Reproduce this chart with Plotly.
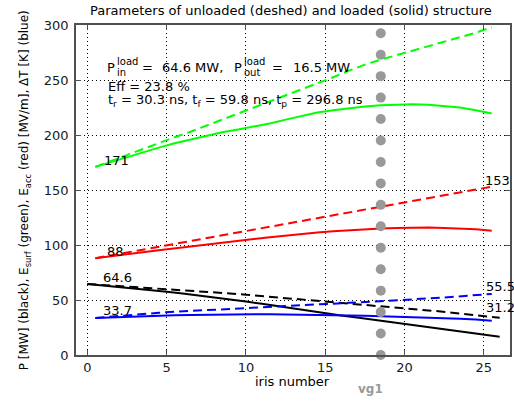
import plotly.graph_objects as go

# ---------------- data ----------------
iris_cells = [0.5, 1.5, 2.5, 3.5, 4.5, 5.5, 6.5, 7.5, 8.5, 9.5, 10.5, 11.5, 12.5,
              13.5, 14.5, 15.5, 16.5, 17.5, 18.5, 19.5, 20.5, 21.5, 22.5, 23.5, 24.5, 25.5]
iris_edges = [0, 1, 2, 3, 4, 5, 6, 7, 8, 9, 10, 11, 12, 13, 14, 15, 16, 17, 18, 19,
              20, 21, 22, 23, 24, 25, 26]

esurf_unloaded = [171, 176.5, 182, 187, 192.5, 198, 203, 208.5, 213.5, 219, 224.5, 230,
                  235.5, 241, 246.5, 252.5, 258.5, 264, 268.5, 272.5, 276.5, 280.5,
                  284.5, 288.5, 293, 298]
esurf_loaded = [171, 175.5, 180, 184, 188.5, 192.5, 196, 199.5, 202.5, 205, 207.5, 210.5,
                214, 217.5, 220.5, 222.5, 224.5, 226, 227, 227.7, 228, 227.5, 226.5,
                225, 222.5, 219.5]
eacc_unloaded = [88, 90.6, 93.2, 95.8, 98.4, 101, 103.6, 106.2, 108.8, 111.4, 114, 116.5,
                 119, 121.6, 124.2, 126.9, 129.5, 132.1, 134.7, 137.3, 140, 142.6, 145.2,
                 147.8, 150.4, 153]
eacc_loaded = [88, 90, 91.8, 93.5, 95.2, 97, 98.8, 100.5, 102.2, 103.8, 105.4, 107, 108.6,
               110, 111.3, 112.4, 113.4, 114.3, 115, 115.5, 115.8, 115.8, 115.5, 115,
               114.3, 113]
power_unloaded = [64.6, 63.7, 62.8, 61.9, 61, 60, 59.1, 58.1, 57, 55.9, 54.8, 53.6, 52.4,
                  51.2, 50, 48.8, 47.6, 46.4, 45.1, 43.8, 42.5, 41.2, 39.9, 38.5, 37,
                  35.4, 33.8]
power_loaded = [64.6, 63.3, 61.9, 60.5, 59, 57.5, 55.9, 54.2, 52.4, 50.5, 48.6, 46.5, 44.3,
                42.1, 40, 38, 36, 34.1, 32.2, 30.3, 28.5, 26.6, 24.6, 22.6, 20.6, 18.6, 16.5]
dT_unloaded = [33.7, 35, 36.2, 37.3, 38.4, 39.3, 40.1, 40.9, 41.7, 42.5, 43.2, 43.9, 44.6,
               45.3, 46, 46.7, 47.4, 48.1, 48.9, 49.7, 50.5, 51.4, 52.3, 53.3, 54.4, 55.5]
dT_loaded = [33.7, 34.3, 34.8, 35.3, 35.7, 36.1, 36.4, 36.7, 36.9, 37, 37.1, 37.1, 37,
             36.9, 36.6, 36.3, 36, 35.7, 35.3, 34.9, 34.5, 34, 33.5, 32.9, 32.2, 31.2]

vg_iris = 18.5
vg_dots = [0, 19.5, 39, 58.5, 78, 97.5, 117, 136.5, 156, 175.5, 195, 214.5, 234, 253.5,
           273, 292.5]

# value labels: (text, x, y)
value_labels = [("298", 25.0, 302.5), ("171", 1.0, 177.0), ("153", 25.0, 158.8),
                ("88", 1.2, 94.4), ("64.6", 0.9, 70.2), ("33.7", 0.9, 40.8),
                ("55.5", 25.1, 62.0), ("31.2", 25.1, 43.3)]

x_ticks = [0, 5, 10, 15, 20, 25]
y_ticks = [0, 50, 100, 150, 200, 250, 300]

title_text = "Parameters of unloaded (deshed) and loaded (solid) structure"
y_title = ("P [MW] (black), E<sub>surf</sub> (green), E<sub>acc</sub> (red) [MV/m], "
           "\u0394T [K] (blue)")
x_title = "iris number"

# ---------------- figure ----------------
FONT = "DejaVu Sans"
W, H = 514, 401
L, R, T, B = 76, 512, 25, 355
DASH = "9px,5px"

fig = go.Figure()

def line(x, y, color, dashed):
    fig.add_trace(go.Scatter(x=x, y=y, mode="lines",
                             line=dict(color=color, width=2,
                                       dash=DASH if dashed else "solid"),
                             showlegend=False, hoverinfo="skip"))

line(iris_cells, esurf_unloaded, "#00ff00", True)
line(iris_cells, esurf_loaded, "#00ff00", False)
line(iris_cells, eacc_unloaded, "#ff0000", True)
line(iris_cells, eacc_loaded, "#ff0000", False)
line(iris_edges, power_unloaded, "#000000", True)
line(iris_edges, power_loaded, "#000000", False)
line(iris_cells, dT_unloaded, "#0000ff", True)
line(iris_cells, dT_loaded, "#0000ff", False)

fig.add_trace(go.Scatter(x=[vg_iris] * len(vg_dots), y=vg_dots, mode="markers",
                         marker=dict(color="#999999", size=10, line=dict(width=0)),
                         cliponaxis=False, showlegend=False, hoverinfo="skip"))

def px(x):
    return (x - L) / (R - L)

def py(y):
    return (B - y) / (B - T)

ann = []

def text(t, x, y, size=13, anchor="left", color="#000000", bold=False, angle=0,
         yanchor="middle"):
    ann.append(dict(text=("<b>%s</b>" % t) if bold else t, x=px(x), y=py(y),
                    xref="paper", yref="paper", showarrow=False, xanchor=anchor,
                    yanchor=yanchor, borderpad=0, textangle=angle,
                    font=dict(family=FONT, size=size, color=color)))

# title and axis titles
text(title_text, 292, 10.5, anchor="center")
text(y_title, 25, 190, size=12, anchor="center", angle=-90)
text(x_title, 293, 381, anchor="center")
text("vg1", 372, 389, size=12, anchor="center", color="#999999", bold=True)

# parameter block
text("P", 106.5, 67)
text("load", 116.5, 61.5, size=10)
text("in", 116.5, 72.5, size=10)
text("=", 141.7, 67)
text("64.6 MW,", 161.7, 67)
text("P", 234, 67)
text("load", 244, 61.5, size=10)
text("out", 244, 72.5, size=10)
text("=", 271.7, 67)
text("16.5 MW", 293, 67)
text("Eff = 23.8 %", 106.7, 86)
text("t<sub>r</sub> = 30.3 ns, t<sub>f</sub> = 59.8 ns, t<sub>p</sub> = 296.8 ns",
     106.7, 100)

for t, x, y in value_labels:
    ann.append(dict(text=t, x=x, y=y, xref="x", yref="y", showarrow=False,
                    xanchor="left", yanchor="middle", borderpad=0,
                    font=dict(family=FONT, size=13, color="#000000")))

axis_common = dict(showline=True, linecolor="#505050", linewidth=1.5, mirror="ticks",
                   ticks="inside", ticklen=5, tickcolor="#505050", tickwidth=1,
                   showgrid=True, gridcolor="#000000", gridwidth=1, griddash="1px,3px",
                   zeroline=False, tickfont=dict(family=FONT, size=13, color="#1a1a1a"))

fig.update_layout(
    width=W, height=H,
    margin=dict(l=L, r=W - R, t=T, b=H - B, pad=0),
    paper_bgcolor="white", plot_bgcolor="white",
    showlegend=False,
    annotations=ann,
    xaxis=dict(range=[-0.72, 26.65], tickvals=x_ticks, **axis_common),
    yaxis=dict(range=[0, 300], tickvals=y_ticks, ticklabelstandoff=3, **axis_common),
)

fig.write_html("out.html", config={"displayModeBar": False},
               post_script="document.body.style.margin='0';")
